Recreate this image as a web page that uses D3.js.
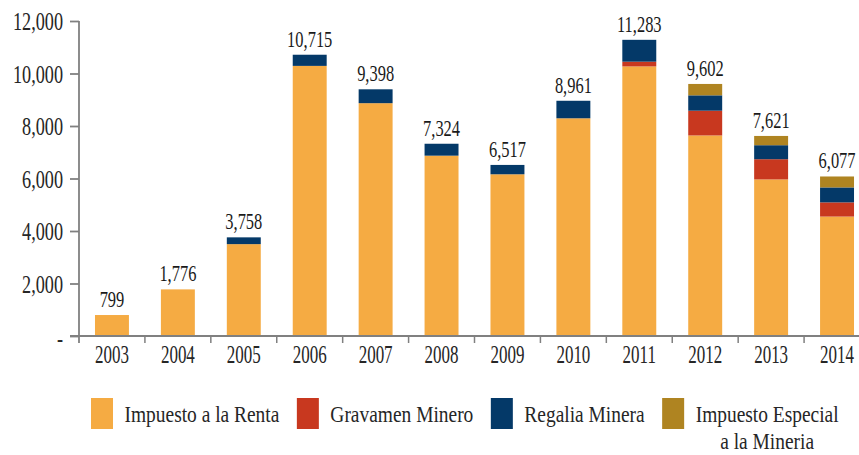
<!DOCTYPE html>
<html>
<head>
<meta charset="utf-8">
<script src="https://cdn.jsdelivr.net/npm/d3@7"></script>
<style>
  html, body { margin: 0; padding: 0; background: #fff; }
  svg { display: block; }
  text { font-family: "Liberation Serif", "DejaVu Serif", serif; }
</style>
</head>
<body>
<svg id="chart" width="859" height="455"></svg>
<script>
// ---- data ----
const years = ["2003","2004","2005","2006","2007","2008","2009","2010","2011","2012","2013","2014"];
const renta    = [799, 1776, 3500, 10290, 8870, 6870, 6161, 8294, 10270, 7640, 5965, 4550];
const gravamen = [0, 0, 0, 0, 0, 0, 0, 0, 180, 943, 770, 540];
const regalia  = [0, 0, 258, 425, 528, 454, 356, 667, 833, 585, 533, 570];
const especial = [0, 0, 0, 0, 0, 0, 0, 0, 0, 434, 353, 417];
const totals   = [799, 1776, 3758, 10715, 9398, 7324, 6517, 8961, 11283, 9602, 7621, 6077];
const seriesNames = [["Impuesto a la Renta"], ["Gravamen Minero"], ["Regalia Minera"], ["Impuesto Especial", "a la Mineria"]];
const seriesColors = ["#F5AB43", "#C8381F", "#043968", "#AF8421"];
const yTicks = [0, 2000, 4000, 6000, 8000, 10000, 12000];

// ---- layout ----
const svg = d3.select("#chart");
const axisX0 = 79, axisX1 = 870, y0 = 336, yTop = 21;
const axisColor = "#808080";
const textColor = "#262626";

const keys = ["renta", "gravamen", "regalia", "especial"];
const table = years.map((yr, i) => ({
  year: yr, renta: renta[i], gravamen: gravamen[i], regalia: regalia[i], especial: especial[i], total: totals[i]
}));
const stack = d3.stack().keys(keys)(table);

const x = d3.scaleBand().domain(years).range([axisX0, axisX1]).paddingInner(0.485).paddingOuter(0.2425);
const y = d3.scaleLinear().domain([0, 12000]).range([y0, yTop]);
const step = x.step(), bw = x.bandwidth();

// bars
svg.append("g").selectAll("g").data(stack).join("g")
  .attr("fill", (d, i) => seriesColors[i])
  .selectAll("rect").data(d => d.filter(s => s[1] - s[0] > 0)).join("rect")
  .attr("x", d => x(d.data.year))
  .attr("width", bw)
  .attr("y", d => y(d[1]))
  .attr("height", d => y(d[0]) - y(d[1]));

// y axis
const yAxis = d3.axisLeft(y).tickValues(yTicks).tickSize(9).tickPadding(7).tickSizeOuter(0)
  .tickFormat(d => d === 0 ? "-" : d3.format(",")(d));
const gy = svg.append("g").attr("transform", `translate(${axisX0},0)`).call(yAxis);
gy.select(".domain").remove();
gy.selectAll(".tick line").attr("stroke", axisColor).attr("stroke-width", 1.8);
const sY = 0.70;
gy.selectAll(".tick text")
  .attr("font-size", 26).attr("fill", textColor)
  .attr("x", -16 / sY).attr("transform", `scale(${sY},1)`)
  .attr("dy", d => d === 0 ? "0.42em" : "0.33em");

// y axis line (extends slightly below baseline)
svg.append("line").attr("x1", axisX0).attr("x2", axisX0)
  .attr("y1", y(12000)).attr("y2", y0 + 7)
  .attr("stroke", axisColor).attr("stroke-width", 1.8);

// baseline
svg.append("line").attr("x1", axisX0 - 9).attr("x2", axisX1)
  .attr("y1", y0).attr("y2", y0)
  .attr("stroke", axisColor).attr("stroke-width", 1.8);

// x category boundary ticks
svg.append("g").selectAll("line").data(years.slice(1)).join("line")
  .attr("x1", d => x(d) - (step - bw) / 2).attr("x2", d => x(d) - (step - bw) / 2)
  .attr("y1", y0).attr("y2", y0 + 7)
  .attr("stroke", axisColor).attr("stroke-width", 1.5);

// x labels
const sX = 0.68;
svg.append("g").selectAll("text").data(years).join("text")
  .attr("transform", d => `translate(${x(d) + bw / 2},${y0 + 27}) scale(${sX},1)`)
  .attr("text-anchor", "middle").attr("font-size", 25).attr("fill", textColor)
  .text(d => d);

// total labels
const sV = 0.70;
svg.append("g").selectAll("text").data(table).join("text")
  .attr("transform", d => `translate(${x(d.year) + bw / 2},${y(d.total) - 8}) scale(${sV},1)`)
  .attr("text-anchor", "middle").attr("font-size", 23.5).attr("fill", "#1a1a1a")
  .text(d => d3.format(",")(d.total));

// legend
const sL = 0.81;
const leg = svg.append("g");
let lx = 91;
const swW = 22, swH = 31, swY = 398, baseY = 421.5, lineH = 27.5;
seriesNames.forEach((lines, i) => {
  leg.append("rect").attr("x", lx).attr("y", swY).attr("width", swW).attr("height", swH)
    .attr("fill", seriesColors[i]);
  const tx = lx + swW + 11.5;
  const t = leg.append("text")
    .attr("transform", `translate(${tx},${baseY}) scale(${sL},1)`)
    .attr("font-size", 24).attr("fill", textColor).text(lines[0]);
  const w = t.node().getComputedTextLength() * sL;
  for (let k = 1; k < lines.length; k++) {
    leg.append("text")
      .attr("transform", `translate(${tx + w / 2},${baseY + lineH * k}) scale(${sL},1)`)
      .attr("text-anchor", "middle")
      .attr("font-size", 24).attr("fill", textColor).text(lines[k]);
  }
  lx = tx + w + 17.5;
});
</script>
</body>
</html>
